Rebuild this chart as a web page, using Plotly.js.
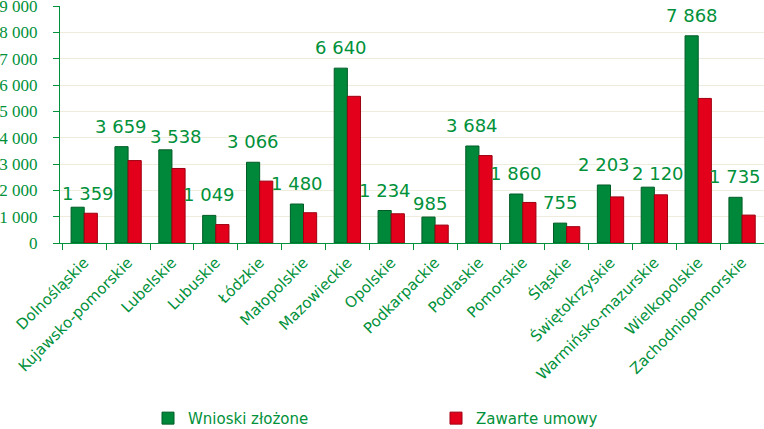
<!DOCTYPE html>
<html>
<head>
<meta charset="utf-8">
<script src="https://cdn.plot.ly/plotly-3.0.1.min.js"></script>
<style>html,body{margin:0;padding:0;background:#fff;}#chart{width:764px;height:429px;}</style>
</head>
<body>
<div id="chart"></div>
<script>
const categories = ["Dolnośląskie","Kujawsko-pomorskie","Lubelskie","Lubuskie","Łódzkie","Małopolskie","Mazowieckie","Opolskie","Podkarpackie","Podlaskie","Pomorskie","Śląskie","Świętokrzyskie","Warmińsko-mazurskie","Wielkopolskie","Zachodniopomorskie"];
const wnioski = [1359,3659,3538,1049,3066,1480,6640,1234,985,3684,1860,755,2203,2120,7868,1735];
const umowy = [1130,3130,2830,700,2350,1150,5570,1110,680,3320,1540,620,1750,1830,5490,1060];
const yTickVals = [0,1000,2000,3000,4000,5000,6000,7000,8000,9000];
const yTickText = ["0","1 000","2 000","3 000","4 000","5 000","6 000","7 000","8 000","9 000"];

const fmt = v => String(v).replace(/\B(?=(\d{3})+(?!\d))/g, " ");
const green = "#00883A", red = "#E2001A", txt = "#00913A";

const W = 764, H = 429, ML = 60, MR = 0, MT = 6, MB = 186;
const YMAX = 9000, BARGAP = 0.4;
const plotW = W - ML - MR, plotH = H - MT - MB;
const pxCat = plotW / categories.length, pxVal = plotH / YMAX;
const labelFont = 18;

// Data-label placement: centred on the first bar, pushed right to avoid collisions (like the source)
const ctx = document.createElement("canvas").getContext("2d");
ctx.font = labelFont + "px 'DejaVu Sans'";
const annotations = [];
let prev = null;
wnioski.forEach((v, i) => {
  const t = fmt(v);
  const w = ctx.measureText(t).width;
  const groupC = (i + 0.5) * pxCat;
  const barC = groupC - (1 - BARGAP) * pxCat / 4;
  let left = barC - w / 2;
  let shifted = false;
  let lift = 8;
  if (left < 0) { left = 0; shifted = true; }
  const top = v * pxVal;
  if (prev && left < prev.right + 3 && Math.abs(prev.top - (top + 13)) < 16) {
    left = prev.right + 3; shifted = true;
  }
  if (shifted) lift = 1;
  annotations.push({xref:"x", yref:"y", x:categories[i], y:v, xshift:left + w / 2 - groupC,
    yshift:lift, yanchor:"bottom", xanchor:"center", showarrow:false, text:t,
    font:{family:"DejaVu Sans", size:labelFont, color:txt}});
  prev = {right:left + w, top:top + (shifted ? 6 : 13)};
});

const traces = [
  {type:"bar", name:"Wnioski złożone", x:categories, y:wnioski,
   marker:{color:green, line:{color:"#005C26", width:1}}, hoverinfo:"x+y"},
  {type:"bar", name:"Zawarte umowy", x:categories, y:umowy,
   marker:{color:red, line:{color:"#9E0012", width:1}}, hoverinfo:"x+y"}
];

const layout = {
  width:W, height:H,
  margin:{l:ML, r:MR, t:MT, b:MB, autoexpand:false},
  paper_bgcolor:"#fff", plot_bgcolor:"#fff",
  barmode:"group", bargap:BARGAP, bargroupgap:0,
  font:{family:"DejaVu Sans", color:txt},
  annotations:annotations,
  xaxis:{type:"category", tickangle:-45, tickson:"boundaries", ticks:"outside", ticklen:6,
         tickcolor:txt, showline:true, linecolor:txt, linewidth:1, automargin:false,
         ticklabelstandoff:4,
         tickfont:{family:"DejaVu Sans", size:15, color:txt}, showgrid:false},
  yaxis:{range:[0,YMAX], tickvals:yTickVals, ticktext:yTickText, ticks:"outside", ticklen:6,
         tickcolor:txt, showline:true, linecolor:txt, linewidth:1, automargin:false,
         gridcolor:"#EDECDD", gridwidth:1, zeroline:false, ticklabeloverflow:"allow",
         ticklabelstandoff:12,
         tickfont:{family:"Liberation Serif", size:17, color:txt}},
  showlegend:true,
  legend:{orientation:"h", x:0.125, xanchor:"left", y:-0.74, yanchor:"middle",
          entrywidth:243, entrywidthmode:"pixels",
          font:{family:"DejaVu Sans", size:15, color:txt}}
};

Plotly.newPlot("chart", traces, layout, {displayModeBar:false, staticPlot:true});
</script>
</body>
</html>
